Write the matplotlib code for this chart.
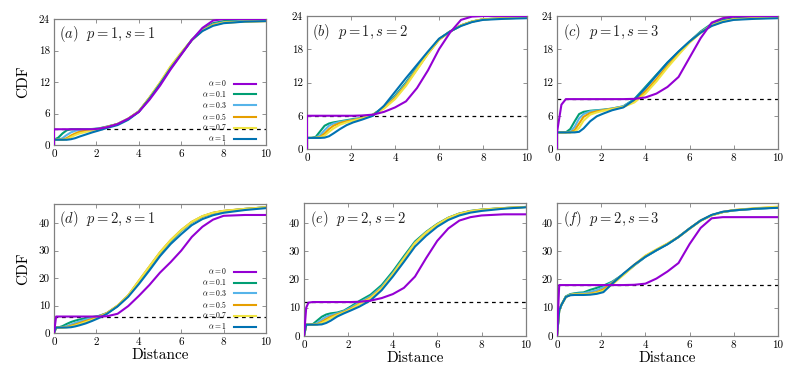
import matplotlib
matplotlib.use("Agg")
import matplotlib.pyplot as plt

plt.rcParams['font.family'] = 'serif'
plt.rcParams['font.serif'] = ['cmr10', 'DejaVu Serif']
plt.rcParams['mathtext.fontset'] = 'cm'
plt.rcParams['axes.unicode_minus'] = False
plt.rcParams['axes.formatter.use_mathtext'] = True

# ---------------- data ----------------
alphas = ["0", "0.1", "0.3", "0.5", "0.7", "1"]
colors = ["#9400D3", "#009E73", "#56B4E9", "#E69F00", "#F0E442", "#0072B2"]

x_top = [0, 0, 0.2, 0.4, 0.6, 0.8, 1.0, 1.2, 1.5, 1.8, 2.1, 2.5, 3.0, 3.5, 4.0, 4.5,
         5.0, 5.5, 6.0, 6.5, 7.0, 7.5, 8.0, 9.0, 10.0]
x_bot = [0, 0.1, 0.2, 0.4, 0.6, 0.8, 1.0, 1.2, 1.5, 1.8, 2.1, 2.5, 3.0, 3.5, 4.0, 4.5,
         5.0, 5.5, 6.0, 6.5, 7.0, 7.5, 8.0, 9.0, 10.0]

# (a) p=1, s=1
cdf_a = [
    [0, 3, 3, 3, 3, 3, 3, 3, 3, 3, 3.1, 3.4, 4.0, 5.0, 6.3, 8.6, 11.3, 14.4, 17.2, 20.0, 22.3, 23.7, 24.0, 24.0, 24.0],
    [0, 1, 1.4, 2.2, 2.8, 3.0, 3.0, 3.0, 3.0, 3.05, 3.15, 3.5, 4.0, 5.0, 6.4, 8.9, 11.6, 14.7, 17.4, 20.0, 22.0, 23.2, 23.6, 23.8, 23.8],
    [0, 1, 1.0, 1.3, 1.9, 2.4, 2.7, 2.85, 2.95, 3.0, 3.1, 3.5, 4.0, 5.0, 6.4, 9.0, 11.8, 14.8, 17.5, 20.0, 21.9, 23.0, 23.4, 23.6, 23.7],
    [0, 1, 1.0, 1.0, 1.3, 1.8, 2.2, 2.5, 2.75, 2.9, 3.05, 3.45, 4.0, 5.0, 6.4, 9.0, 11.8, 14.9, 17.5, 20.0, 21.8, 22.9, 23.3, 23.5, 23.6],
    [0, 1, 1.0, 1.0, 1.1, 1.5, 1.9, 2.2, 2.5, 2.75, 2.95, 3.4, 4.0, 5.0, 6.4, 9.0, 11.9, 15.0, 17.6, 20.0, 21.8, 22.8, 23.3, 23.5, 23.6],
    [0, 1, 1.0, 1.0, 1.0, 1.1, 1.3, 1.6, 2.0, 2.4, 2.75, 3.25, 3.8, 4.8, 6.3, 8.8, 11.6, 14.6, 17.3, 20.0, 21.7, 22.7, 23.2, 23.5, 23.6],
]
# (b) p=1, s=2
cdf_b = [
    [0, 6, 6, 6, 6, 6, 6, 6, 6, 6, 6, 6.05, 6.2, 6.7, 7.5, 8.6, 11.0, 14.2, 18.0, 21.0, 23.3, 23.9, 24.0, 24.0, 24.0],
    [0, 2, 2, 2.2, 3.2, 4.2, 4.6, 4.8, 5.0, 5.2, 5.4, 5.6, 6.2, 7.6, 9.6, 12.0, 14.8, 17.4, 19.8, 21.2, 22.3, 23.0, 23.4, 23.6, 23.7],
    [0, 2, 2, 2.05, 2.5, 3.4, 4.2, 4.6, 4.9, 5.1, 5.3, 5.6, 6.2, 7.5, 9.4, 11.8, 14.6, 17.3, 19.8, 21.2, 22.3, 23.0, 23.4, 23.6, 23.7],
    [0, 2, 2, 2, 2.2, 2.8, 3.6, 4.2, 4.7, 5.0, 5.2, 5.55, 6.2, 7.4, 9.2, 11.6, 14.4, 17.2, 19.7, 21.2, 22.3, 23.0, 23.4, 23.6, 23.7],
    [0, 2, 2, 2, 2.1, 2.4, 3.1, 3.7, 4.4, 4.8, 5.1, 5.5, 6.1, 7.3, 9.0, 11.4, 14.3, 17.2, 19.8, 21.2, 22.3, 23.0, 23.4, 23.6, 23.7],
    [0, 2, 2, 2, 2, 2.05, 2.3, 2.8, 3.6, 4.3, 4.8, 5.3, 6.0, 7.8, 10.3, 12.8, 15.2, 17.6, 19.9, 21.2, 22.2, 22.9, 23.3, 23.5, 23.6],
]
# (c) p=1, s=3
cdf_c = [
    [0, 3, 8.0, 9, 9, 9, 9, 9, 9, 9, 9, 9, 9, 9.05, 9.3, 10.0, 11.2, 13.0, 16.5, 20.0, 22.8, 23.6, 23.9, 24.0, 24.0],
    [0, 3, 3, 3, 3.6, 5.0, 6.3, 6.7, 6.9, 7.0, 7.1, 7.3, 7.7, 9.0, 11.2, 13.4, 15.6, 17.5, 19.4, 21.2, 22.6, 23.3, 23.6, 23.8, 23.9],
    [0, 3, 3, 3, 3.1, 4.0, 5.5, 6.3, 6.8, 6.95, 7.05, 7.3, 7.7, 8.9, 11.0, 13.2, 15.5, 17.5, 19.4, 21.1, 22.4, 23.1, 23.4, 23.6, 23.7],
    [0, 3, 3, 3, 3, 3.4, 4.6, 5.8, 6.5, 6.8, 7.0, 7.25, 7.6, 8.6, 10.4, 12.6, 15.0, 17.2, 19.3, 21.0, 22.3, 23.0, 23.4, 23.6, 23.7],
    [0, 3, 3, 3, 3, 3.1, 3.8, 5.1, 6.2, 6.6, 6.9, 7.2, 7.6, 8.4, 10.0, 12.2, 14.7, 17.0, 19.2, 21.0, 22.3, 23.0, 23.4, 23.6, 23.7],
    [0, 3, 3, 3, 3, 3, 3.1, 3.7, 5.0, 5.9, 6.4, 7.0, 7.5, 8.9, 11.0, 13.3, 15.6, 17.6, 19.4, 21.0, 22.2, 22.9, 23.3, 23.5, 23.6],
]
# (d) p=2, s=1
cdf_d = [
    [0, 6, 6, 6, 6, 6, 6, 6, 6, 6, 6, 6.1, 7.0, 9.8, 13.5, 17.5, 22.0, 25.8, 30.0, 35.0, 38.7, 41.3, 42.7, 43.0, 43.0],
    [0, 2, 2, 2.5, 3.3, 4.0, 4.5, 4.9, 5.4, 5.8, 6.2, 7.2, 9.8, 13.5, 18.6, 23.8, 29.0, 33.4, 37.2, 40.3, 42.4, 43.7, 44.4, 45.2, 45.8],
    [0, 2, 2, 2.1, 2.5, 3.1, 3.7, 4.2, 4.9, 5.5, 6.1, 7.3, 9.9, 13.6, 18.8, 24.0, 29.2, 33.6, 37.3, 40.4, 42.5, 43.7, 44.4, 45.2, 45.8],
    [0, 2, 2, 2, 2.2, 2.6, 3.1, 3.6, 4.4, 5.1, 5.9, 7.3, 10.0, 13.7, 19.0, 24.2, 29.4, 33.8, 37.5, 40.5, 42.5, 43.8, 44.5, 45.2, 45.8],
    [0, 2, 2, 2, 2.1, 2.3, 2.7, 3.2, 4.0, 4.8, 5.7, 7.2, 10.0, 13.7, 19.0, 24.2, 29.4, 33.8, 37.5, 40.5, 42.6, 43.8, 44.5, 45.2, 45.8],
    [0, 2, 2, 2, 2, 2.1, 2.4, 2.8, 3.5, 4.4, 5.4, 7.0, 9.7, 13.2, 17.8, 22.8, 28.0, 32.4, 36.0, 39.3, 41.5, 42.9, 43.8, 44.8, 45.5],
]
# (e) p=2, s=2
cdf_e = [
    [0, 10, 11.8, 12, 12, 12, 12, 12, 12, 12, 12, 12.1, 12.5, 13.4, 14.8, 17.0, 21.0, 27.5, 33.6, 38.0, 40.8, 42.0, 42.6, 43.0, 43.0],
    [0, 4, 4, 4.2, 5.5, 6.8, 7.6, 8.0, 8.3, 9.0, 10.4, 12.4, 14.6, 18.0, 22.8, 28.2, 33.4, 36.8, 39.6, 41.8, 43.3, 44.2, 44.7, 45.2, 45.6],
    [0, 4, 4, 4, 4.6, 5.8, 6.8, 7.4, 8.0, 8.8, 10.0, 11.8, 14.0, 17.4, 22.2, 27.6, 33.0, 36.6, 39.4, 41.7, 43.2, 44.1, 44.6, 45.2, 45.6],
    [0, 4, 4, 4, 4.2, 5.0, 6.0, 6.8, 7.7, 8.5, 9.6, 11.4, 13.6, 17.0, 21.8, 27.3, 32.8, 36.5, 39.4, 41.7, 43.2, 44.1, 44.6, 45.2, 45.6],
    [0, 4, 4, 4, 4.1, 4.6, 5.4, 6.3, 7.4, 8.3, 9.4, 11.2, 13.4, 16.8, 21.8, 27.3, 32.8, 36.5, 39.4, 41.7, 43.2, 44.1, 44.6, 45.2, 45.6],
    [0, 4, 4, 4, 4, 4.1, 4.6, 5.4, 6.9, 8.0, 9.0, 10.4, 12.6, 16.2, 21.0, 26.2, 31.6, 35.4, 38.6, 41.0, 42.6, 43.6, 44.2, 45.0, 45.5],
]
# (f) p=2, s=3
cdf_f = [
    [0, 18, 18, 18, 18, 18, 18, 18, 18, 18, 18, 18, 18, 18.1, 18.5, 20.3, 22.8, 25.8, 32.5, 38.2, 41.6, 42.0, 42.0, 42.0, 42.0],
    [0, 9, 11, 14, 14.8, 15.1, 15.3, 15.4, 16.3, 17.0, 17.8, 19.2, 21.8, 25.0, 28.0, 30.3, 32.5, 35.0, 38.0, 40.8, 42.7, 43.8, 44.4, 45.0, 45.4],
    [0, 9, 11, 13.8, 14.6, 14.9, 15.0, 15.1, 15.6, 16.2, 17.2, 19.0, 21.8, 25.0, 28.0, 30.3, 32.5, 35.0, 38.0, 40.8, 42.7, 43.8, 44.4, 45.0, 45.4],
    [0, 9, 11, 13.8, 14.5, 14.7, 14.7, 14.8, 15.0, 15.5, 16.5, 18.7, 21.8, 25.2, 28.3, 30.5, 32.6, 35.0, 38.0, 40.8, 42.7, 43.8, 44.5, 45.1, 45.6],
    [0, 9, 11, 13.8, 14.5, 14.7, 14.7, 14.7, 14.8, 15.2, 16.0, 18.2, 21.5, 25.0, 28.4, 30.6, 32.7, 35.0, 37.9, 40.7, 42.6, 43.8, 44.5, 45.2, 45.7],
    [0, 9, 11, 13.8, 14.4, 14.5, 14.5, 14.5, 14.6, 14.9, 15.5, 18.5, 22.0, 25.2, 28.0, 30.3, 32.4, 35.0, 38.0, 40.8, 42.8, 43.9, 44.4, 45.0, 45.3],
]

panel_labels = [r"$(a)\ \ p = 1, s = 1$", r"$(b)\ \ p = 1, s = 2$", r"$(c)\ \ p = 1, s = 3$",
                r"$(d)\ \ p = 2, s = 1$", r"$(e)\ \ p = 2, s = 2$", r"$(f)\ \ p = 2, s = 3$"]
dash_levels = [3, 6, 9, 6, 12, 18]
x_ticks = [0, 2, 4, 6, 8, 10]
y_ticks_top = [0, 6, 12, 18, 24]
y_ticks_bot = [0, 10, 20, 30, 40]

# ---------------- layout ----------------
W, H = 789, 375
def rect(l, r, t, b):
    return [l / W, 1 - b / H, (r - l) / W, (b - t) / H]

rects = [rect(54, 266, 19, 145), rect(307, 527, 16, 149), rect(557, 778, 16, 149),
         rect(54, 266, 204, 333), rect(304, 526, 203, 336), rect(557, 778, 203, 336)]

fig = plt.figure(figsize=(W / 100, H / 100), dpi=100)
data = [cdf_a, cdf_b, cdf_c, cdf_d, cdf_e, cdf_f]
frame_col = "#808080"

for i in range(6):
    ax = fig.add_axes(rects[i])
    xs = x_top if i < 3 else x_bot
    ax.axhline(dash_levels[i], color="black", lw=0.9, ls=(0, (3, 3)), zorder=1)
    for k in range(6):
        ax.plot(xs, data[i][k], color=colors[k], lw=1.5, label=r"$\alpha = %s$" % alphas[k],
                zorder=2 + k * 0.1 if k != 0 else 2.7)
    ax.set_xlim(0, 10)
    if i < 3:
        ax.set_ylim(0, 24)
        ax.set_yticks(y_ticks_top)
        ax.set_yticklabels([str(v) for v in y_ticks_top])
    else:
        ax.set_ylim(0, 47)
        ax.set_yticks(y_ticks_bot)
        ax.set_yticklabels([str(v) for v in y_ticks_bot])
    ax.set_xticks(x_ticks)
    ax.set_xticklabels([str(v) for v in x_ticks])
    ax.tick_params(direction="in", length=3, width=0.6, color=frame_col, labelsize=8,
                   top=True, right=True, pad=3)
    for sp in ax.spines.values():
        sp.set_color(frame_col)
        sp.set_linewidth(0.9)
    ax.text(0.025, 0.88, panel_labels[i], transform=ax.transAxes, fontsize=10.5,
            ha="left", va="center", color="#222222")
    if i in (0, 3):
        ax.set_ylabel("CDF", fontsize=11, labelpad=6)
        ax.legend(loc="lower right", bbox_to_anchor=(0.968, -0.01), frameon=False,
                  markerfirst=False, fontsize=5.5, handlelength=2.9, labelspacing=0.1,
                  borderaxespad=0.0, handletextpad=0.9)
    if i >= 3:
        ax.set_xlabel("Distance", fontsize=11, labelpad=1)

fig.savefig("out.png", dpi=100)
